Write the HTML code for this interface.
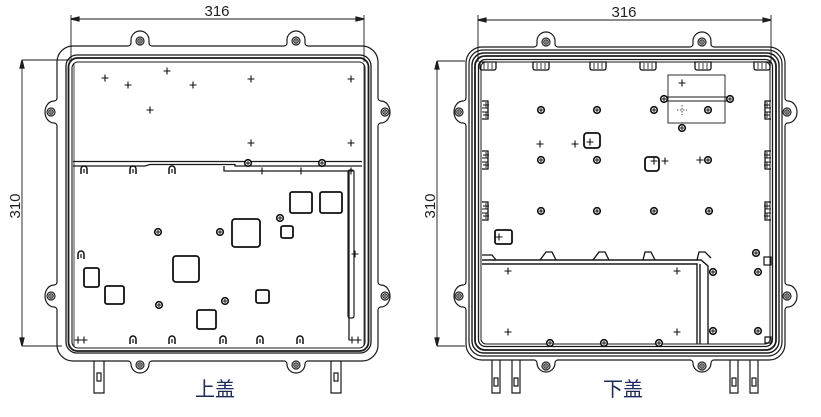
<!DOCTYPE html>
<html><head><meta charset="utf-8"><style>
html,body{margin:0;padding:0;background:#fff;width:821px;height:417px;overflow:hidden}
svg{display:block}
text{font-family:"Liberation Sans",sans-serif}
</style></head><body>
<svg width="821" height="417" viewBox="0 0 821 417" xmlns="http://www.w3.org/2000/svg">
<defs>
<g id="hole"><circle r="4" fill="none" stroke="#222" stroke-width="1.2"/><circle r="2.3" fill="none" stroke="#222" stroke-width="1"/><path d="M-2.3 0H2.3M0 -2.3V2.3" stroke="#222" stroke-width="0.8"/></g>
<g id="dot"><circle r="3.3" fill="#fff" stroke="#111" stroke-width="1.6"/><path d="M-2 0H2M0 -2V2" stroke="#111" stroke-width="1"/></g>
<g id="cr"><path d="M-3.5 0H3.5M0 -3.5V3.5" stroke="#111" stroke-width="1.1"/></g>
<g id="clipb"><path d="M-3 4V-1a3 3 0 0 1 6 0V4" fill="none" stroke="#111" stroke-width="1.5"/><path d="M0 -1V3" stroke="#111"/></g>
<g id="clipd"><path d="M-8 -4H8V2a2 2 0 0 1 -2 2H-6a2 2 0 0 1 -2 -2Z" fill="none" stroke="#111" stroke-width="1.3"/><path d="M-4 -3V3M0 -3V3M4 -3V3" stroke="#111" stroke-width="0.8"/></g>
<g id="clips"><path d="M-4 -9H2V9H-4" fill="none" stroke="#111" stroke-width="1.3"/><path d="M-3 -5H3M0 -8V-2M-3 5H3M0 2V8M-4 -2H2V2H-4" fill="none" stroke="#111" stroke-width="0.9"/></g>
</defs>
<g fill="none" stroke="#1a1a1a" stroke-width="1.2">
<path d="M71 19H364M71 15V62M364 15V62" stroke-width="0.9"/>
<path d="M71 19l8 -2v4zM364 19l-8 -2v4z" fill="#222"/>
<path d="M22 60V346M22 60H70M22 346H62" stroke-width="0.9"/>
<path d="M22 60l-2 8h4zM22 346l-2 -8h4z" fill="#222"/>
<path d="M73 46H128a3 3 0 0 0 3 -3V40a9 9 0 0 1 18 0V43a3 3 0 0 0 3 3H284a3 3 0 0 0 3 -3V40a9 9 0 0 1 18 0V43a3 3 0 0 0 3 3H362a16 16 0 0 1 16 16V98a3 3 0 0 0 3 3 9 11 0 0 1 0 22 3 3 0 0 0 -3 3V282a3 3 0 0 0 3 3 9 11 0 0 1 0 22 3 3 0 0 0 -3 3V345a16 16 0 0 1 -16 16H308a3 3 0 0 0 -3 3 9 9 0 0 1 -18 0 3 3 0 0 0 -3 -3H152a3 3 0 0 0 -3 3 9 9 0 0 1 -18 0 3 3 0 0 0 -3 -3H73a16 16 0 0 1 -16 -16V310a3 3 0 0 0 -3 -3 9 11 0 0 1 0 -22 3 3 0 0 0 3 -3V126a3 3 0 0 0 -3 -3 9 11 0 0 1 0 -22 3 3 0 0 0 3 -3V62a16 16 0 0 1 16 -16Z"/>
<use href="#hole" x="140" y="41"/><use href="#hole" x="296" y="41"/>
<use href="#hole" x="51" y="112"/><use href="#hole" x="385" y="112"/>
<use href="#hole" x="51" y="296"/><use href="#hole" x="385" y="296"/>
<use href="#hole" x="140" y="365"/><use href="#hole" x="296" y="365"/>
<path d="M94 361V393H104V361M97 373H101V381H97Z"/>
<path d="M331 361V393H341V361M334 373H338V381H334Z"/>
<rect x="66" y="55" width="305" height="298" rx="11" stroke-width="1.3"/>
<rect x="68.5" y="58" width="300" height="293" rx="9" stroke-width="1.8"/>
<rect x="72" y="62" width="293" height="286" rx="6" stroke-width="1.1"/>
<path d="M74 64V346M364 64V346" stroke-width="0.8"/>
<path d="M73 161.5H362M73 166H145L150 164.5H235V166H362M224 166V171H349V340" stroke-width="1.3"/>
<rect x="348" y="170" width="6" height="148" rx="2" stroke-width="1.2"/>
<use href="#cr" x="105" y="78"/><use href="#cr" x="128" y="85"/><use href="#cr" x="167" y="71"/><use href="#cr" x="193" y="85"/><use href="#cr" x="251" y="79"/><use href="#cr" x="351" y="79"/><use href="#cr" x="150" y="110"/><use href="#cr" x="251" y="143"/><use href="#cr" x="351" y="143"/>
<use href="#cr" x="262" y="171"/><use href="#cr" x="301" y="171"/><use href="#cr" x="351" y="171"/>
<use href="#dot" x="248" y="163"/><use href="#dot" x="322" y="163"/>
<use href="#clipb" x="84" y="170"/><use href="#clipb" x="133" y="170"/><use href="#clipb" x="172" y="170"/>
<g stroke="#111" stroke-width="1.8">
<rect x="290" y="192" width="22" height="21" rx="2"/><rect x="320" y="192" width="22" height="21" rx="2"/>
<rect x="281" y="226" width="12" height="12" rx="2"/>
<rect x="232" y="219" width="28" height="28" rx="3"/>
<rect x="173" y="256" width="26" height="26" rx="3"/>
<rect x="84" y="268" width="15" height="19" rx="2"/>
<rect x="105" y="286" width="19" height="18" rx="2"/>
<rect x="256" y="290" width="13" height="13" rx="2"/>
<rect x="197" y="310" width="19" height="19" rx="2"/>
</g>
<use href="#dot" x="280" y="218"/><use href="#dot" x="158" y="232"/><use href="#dot" x="220" y="232"/><use href="#dot" x="159" y="305"/><use href="#dot" x="225" y="301"/>
<use href="#clipb" x="81" y="255"/><use href="#cr" x="355" y="254"/>
<use href="#clipb" x="133" y="340"/><use href="#clipb" x="172" y="340"/><use href="#clipb" x="223" y="340"/><use href="#clipb" x="260" y="340"/><use href="#clipb" x="300" y="340"/>
<use href="#cr" x="78" y="340"/><use href="#cr" x="84" y="340"/><use href="#cr" x="352" y="340"/><use href="#cr" x="358" y="340"/>

<path d="M478 20H771M478 15V62M771 15V62" stroke-width="0.9"/>
<path d="M478 20l8 -2v4zM771 20l-8 -2v4z" fill="#222"/>
<path d="M437 61V346M437 61H465M437 346H465" stroke-width="0.9"/>
<path d="M437 61l-2 8h4zM437 346l-2 -8h4z" fill="#222"/>
<path d="M482 47H534a3 3 0 0 0 3 -3V41a9 9 0 0 1 18 0V44a3 3 0 0 0 3 3H690a3 3 0 0 0 3 -3V41a9 9 0 0 1 18 0V44a3 3 0 0 0 3 3H769a16 16 0 0 1 16 16V98a3 3 0 0 0 3 3 9 11 0 0 1 0 22 3 3 0 0 0 -3 3V282a3 3 0 0 0 3 3 9 11 0 0 1 0 22 3 3 0 0 0 -3 3V344a16 16 0 0 1 -16 16H714a3 3 0 0 0 -3 3 9 9 0 0 1 -18 0 3 3 0 0 0 -3 -3H558a3 3 0 0 0 -3 3 9 9 0 0 1 -18 0 3 3 0 0 0 -3 -3H482a16 16 0 0 1 -16 -16V310a3 3 0 0 0 -3 -3 9 11 0 0 1 0 -22 3 3 0 0 0 3 -3V126a3 3 0 0 0 -3 -3 9 11 0 0 1 0 -22 3 3 0 0 0 3 -3V63a16 16 0 0 1 16 -16Z"/>
<use href="#hole" x="546" y="42"/><use href="#hole" x="702" y="42"/>
<use href="#hole" x="459" y="112"/><use href="#hole" x="787" y="112"/>
<use href="#hole" x="459" y="296"/><use href="#hole" x="787" y="296"/>
<use href="#hole" x="546" y="366"/><use href="#hole" x="702" y="366"/>
<path d="M492 360V393H500V360M494 378H498V386H494Z"/>
<path d="M512 360V393H520V360M514 378H518V386H514Z"/>
<path d="M730 360V393H738V360M732 378H736V386H732Z"/>
<path d="M750 360V393H758V360M752 378H756V386H752Z"/>
<rect x="469" y="50" width="313" height="306" rx="14"/>
<rect x="472" y="53" width="307" height="300" rx="12" stroke-width="1.4"/>
<rect x="475" y="56" width="301" height="294" rx="10" stroke-width="1.8"/>
<rect x="478.5" y="59.5" width="294" height="287" rx="7" stroke-width="1.3"/>
<rect x="481" y="62" width="289" height="282" rx="5" stroke-width="1"/>
<path d="M482 260H701L708 266V344M482 264H697V344M700 264V344" stroke-width="1.4"/>
<rect x="668" y="75" width="57" height="48" stroke-width="0.9"/>
<path d="M664 97H729M664 101H729" stroke-width="0.9"/>
<use href="#cr" x="682" y="83"/>
<path d="M677 110H687M682 105V115" stroke-width="0.8" stroke-dasharray="1.5 1.5"/>
<use href="#dot" x="664" y="99"/><use href="#dot" x="730" y="99"/><use href="#dot" x="682" y="128"/><use href="#dot" x="708" y="110"/>
<use href="#dot" x="541" y="110"/><use href="#dot" x="597" y="110"/><use href="#dot" x="654" y="110"/>
<use href="#dot" x="541" y="160"/><use href="#dot" x="597" y="160"/><use href="#dot" x="708" y="160"/>
<use href="#dot" x="541" y="211"/><use href="#dot" x="597" y="211"/><use href="#dot" x="654" y="211"/><use href="#dot" x="709" y="211"/>
<use href="#cr" x="540" y="144"/><use href="#cr" x="575" y="144"/><use href="#cr" x="590" y="142"/><use href="#cr" x="665" y="161"/><use href="#cr" x="700" y="160"/><use href="#cr" x="654" y="161"/><use href="#cr" x="499" y="237"/>
<g stroke="#111" stroke-width="1.8">
<rect x="584" y="133" width="16" height="15" rx="3"/>
<rect x="645" y="157" width="14" height="14" rx="3"/>
<rect x="495" y="230" width="17" height="14" rx="2"/>
</g>
<use href="#dot" x="713" y="272"/><use href="#dot" x="758" y="272"/><use href="#dot" x="713" y="331"/><use href="#dot" x="758" y="331"/><use href="#dot" x="756" y="253"/>
<use href="#cr" x="508" y="271"/><use href="#cr" x="677" y="271"/><use href="#cr" x="508" y="332"/><use href="#cr" x="677" y="332"/>
<use href="#dot" x="550" y="343"/><use href="#dot" x="604" y="343"/><use href="#dot" x="659" y="343"/>
<use href="#clipd" x="488" y="66"/><use href="#clipd" x="541" y="66"/><use href="#clipd" x="598" y="66"/><use href="#clipd" x="648" y="66"/><use href="#clipd" x="703" y="66"/><use href="#clipd" x="762" y="66"/>
<use href="#clips" x="486" y="110"/><use href="#clips" x="486" y="160"/><use href="#clips" x="486" y="211"/>
<g transform="translate(767 0) scale(-1 1)"><use href="#clips" x="0" y="110"/><use href="#clips" x="0" y="160"/><use href="#clips" x="0" y="211"/></g>
<path d="M482 255H492L496 260M540 260L546 252H552L556 260M593 260L599 252H605L609 260M643 260L645 252H651L655 260M697 260L699 252H705L711 258" stroke="#111" stroke-width="1.3"/>
<rect x="764" y="257" width="7" height="8" stroke="#111" stroke-width="1.2"/>
<path d="M765 337H771V343H765Z" stroke="#111"/>
</g>
<text x="217" y="16" font-size="15" text-anchor="middle" fill="#222">316</text>
<text x="624" y="17" font-size="15" text-anchor="middle" fill="#222">316</text>
<text transform="translate(20 206) rotate(-90)" font-size="15" text-anchor="middle" fill="#222">310</text>
<text transform="translate(435 206) rotate(-90)" font-size="15" text-anchor="middle" fill="#222">310</text>
<text x="215" y="396" font-size="20" text-anchor="middle" fill="#1b2a5a" font-family="'Liberation Serif','Noto Serif CJK SC',serif">上盖</text>
<text x="623" y="396" font-size="20" text-anchor="middle" fill="#1b2a5a" font-family="'Liberation Serif','Noto Serif CJK SC',serif">下盖</text>
</svg>
</body></html>
